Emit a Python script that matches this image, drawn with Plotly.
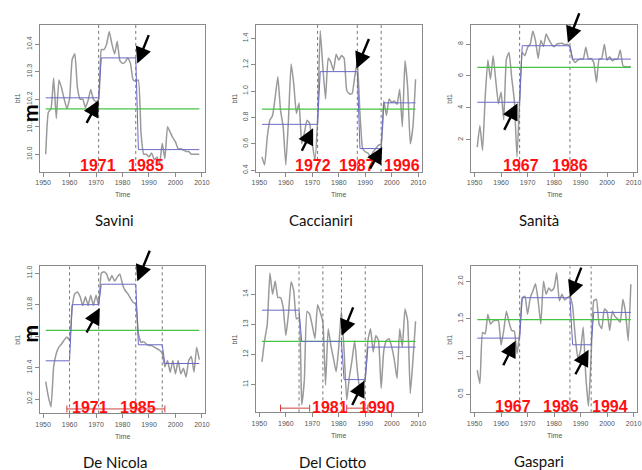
import plotly.graph_objects as go

W, H = 642, 470
years = list(range(1951, 2010))
x_ticks = [1950, 1960, 1970, 1980, 1990, 2000, 2010]

# ---------------- data ----------------
savini = [10.0, 10.153, 10.165, 10.277, 10.13, 10.27, 10.24, 10.2, 10.165, 10.2,
          10.345, 10.365, 10.24, 10.2, 10.2, 10.17, 10.195, 10.235, 10.2, 10.19,
          10.2, 10.38, 10.38, 10.4, 10.446, 10.4, 10.364, 10.41, 10.34, 10.33,
          10.335, 10.35, 10.33, 10.27, 10.265, 10.27, 10.075, 10.0, 10.0, 9.99,
          10.005, 9.98, 9.99, 9.966, 10.04, 9.984, 10.1, 10.08, 10.06, 10.045,
          10.02, 10.02, 10.015, 10.01, 10.01, 10.0, 10.0, 10.0, 10.0]
savini_breaks = [1971, 1985]
savini_levels = [10.205, 10.35, 10.017]
savini_mean = 10.165
savini_labels = ["1971", "1985"]

caccianiri = [0.5, 0.44, 0.65, 0.78, 0.815, 0.955, 1.11, 0.855, 0.73, 0.44,
              0.78, 1.206, 1.055, 0.83, 0.91, 0.6, 0.68, 0.78, 0.755, 0.6,
              0.475, 0.78, 1.46, 1.18, 0.94, 1.25, 1.22, 1.155, 1.28, 1.236,
              1.27, 1.25, 1.005, 0.98, 0.98, 1.105, 1.23, 0.83, 0.565, 0.54,
              0.53, 0.5, 0.54, 0.565, 0.59, 0.6, 0.925, 0.815, 0.94, 0.915,
              0.925, 0.9, 1.015, 0.73, 1.23, 1.03, 0.6, 0.73, 1.09]
caccianiri_breaks = [1972, 1987, 1996]
caccianiri_levels = [0.748, 1.148, 0.564, 0.911]
caccianiri_mean = 0.863
caccianiri_labels = ["1972", "1987", "1996"]

sanita = [1.54, 2.9, 1.33, 4.67, 7.0, 5.8, 7.27, 5.7, 4.25, 5.0,
          3.25, 7.06, 7.48, 5.9, 4.46, 0.92, 4.46, 7.48, 7.27, 7.8,
          8.0, 8.83, 8.2, 7.1, 8.25, 7.85, 8.63, 8.3, 8.0, 7.83,
          8.0, 8.04, 8.06, 7.96, 8.0, 7.8, 7.06, 6.85, 7.0, 7.06,
          7.06, 7.8, 7.06, 7.1, 6.85, 5.6, 7.06, 7.1, 8.0, 7.0,
          7.2, 6.96, 7.06, 7.06, 7.63, 6.65, 6.58, 6.58, 6.6]
sanita_breaks = [1967, 1986]
sanita_levels = [4.35, 7.9, 7.06]
sanita_mean = 6.54
sanita_labels = ["1967", "1986"]

denicola = [10.31, 10.215, 10.15, 10.405, 10.49, 10.53, 10.55, 10.575, 10.595, 10.575,
            10.785, 10.87, 10.88, 10.85, 10.795, 10.85, 10.795, 10.86, 10.795, 10.86,
            10.795, 11.0, 11.01, 10.995, 10.95, 10.985, 10.95, 10.975, 10.995, 10.93,
            10.89, 10.87, 10.84, 10.815, 10.805, 10.615, 10.56, 10.565, 10.55, 10.54,
            10.54, 10.53, 10.52, 10.51, 10.49, 10.405, 10.445, 10.37, 10.445, 10.36,
            10.445, 10.36, 10.395, 10.34, 10.445, 10.47, 10.37, 10.53, 10.45]
denicola_breaks = [1960, 1971, 1985, 1995]
denicola_levels = [10.443, 10.80, 10.93, 10.545, 10.426]
denicola_mean = 10.637
denicola_labels = ["1971", "1985"]
denicola_ci = [[1959, 1996, 10.137]]

delciotto = [11.75, 12.46, 13.0, 14.71, 14.0, 14.44, 13.89, 13.89, 13.56, 12.63,
             13.34, 14.42, 14.11, 13.18, 13.23, 10.32, 11.14, 13.43, 13.34, 12.96,
             12.52, 13.65, 13.4, 13.07, 10.98, 12.85, 12.3, 11.86, 11.42, 12.24,
             13.45, 12.13, 10.48, 11.25, 11.8, 12.46, 11.47, 10.81, 10.98, 11.25,
             12.46, 12.85, 12.08, 12.63, 12.46, 10.87, 12.13, 12.46, 12.52, 12.24,
             11.8, 11.2, 12.85, 12.24, 13.51, 13.12, 10.7, 11.8, 13.1]
delciotto_breaks = [1965, 1974, 1981, 1990]
delciotto_levels = [13.47, 12.43, 12.43, 11.16, 12.24]
delciotto_mean = 12.43
delciotto_labels = ["1981", "1990"]
delciotto_ci = [[1958, 1969, 10.21], [1983, 1991, 10.21]]

gaspari = [0.82, 0.64, 1.32, 1.30, 1.56, 1.43, 1.47, 1.48, 1.475, 1.15,
           1.345, 1.6, 1.455, 1.345, 1.335, 1.04, 1.3, 1.78, 1.80, 1.56,
           1.78, 1.87, 1.965, 1.74, 1.43, 2.0, 1.825, 1.91, 1.87, 1.91,
           2.11, 1.74, 1.825, 1.75, 1.78, 1.80, 1.67, 1.26, 0.97, 1.08,
           1.39, 0.73, 0.34, 1.0, 1.74, 1.76, 1.43, 1.37, 1.63, 1.6,
           1.345, 1.6, 1.53, 1.5, 1.455, 1.76, 1.58, 1.21, 1.96]
gaspari_breaks = [1967, 1986, 1994]
gaspari_levels = [1.244, 1.78, 1.156, 1.585]
gaspari_mean = 1.49
gaspari_labels = ["1967", "1986", "1994"]

names = ["Savini", "Caccianiri", "Sanità", "De Nicola", "Del Ciotto", "Gaspari"]

# ---------------- layout config (positions in pixels) ----------------
panels = [
    dict(series=savini, breaks=savini_breaks, levels=savini_levels, mean=savini_mean,
         labels=savini_labels, ci=[],
         box=(36, 24, 204, 172), yrange=(9.936, 10.47),
         yticks=[10.0, 10.1, 10.2, 10.3, 10.4],
         name_pos=(112, 220), lab_pos=[(95, 166), (144, 166)],
         arrows=[((96, 100), (83, 124)), ((135, 63), (147, 33))], m=(26, 113)),
    dict(series=caccianiri, breaks=caccianiri_breaks, levels=caccianiri_levels,
         mean=caccianiri_mean, labels=caccianiri_labels, ci=[],
         box=(255, 24, 423, 172), yrange=(0.387, 1.503),
         yticks=[0.4, 0.6, 0.8, 1.0, 1.2, 1.4],
         name_pos=(321, 220), lab_pos=[(313, 166), (357, 166), (403, 166)],
         arrows=[((313, 128), (301, 152)), ((357, 68), (370, 37)), ((383, 147), (370, 170))],
         m=None),
    dict(series=sanita, breaks=sanita_breaks, levels=sanita_levels, mean=sanita_mean,
         labels=sanita_labels, ci=[],
         box=(473, 24, 641, 172), yrange=(-0.02, 9.21),
         yticks=[2, 4, 6, 8],
         name_pos=(542, 220), lab_pos=[(524, 166), (573, 166)],
         arrows=[((520, 103), (506, 131)), ((571, 42), (583, 11))], m=None),
    dict(series=denicola, breaks=denicola_breaks, levels=denicola_levels,
         mean=denicola_mean, labels=denicola_labels, ci=denicola_ci,
         box=(36, 267, 204, 415), yrange=(10.109, 11.044),
         yticks=[10.2, 10.4, 10.6, 10.8, 11.0],
         name_pos=(113, 464), lab_pos=[(87, 409), (136, 409)],
         arrows=[((97, 309), (83, 335)), ((135, 282), (148, 250))], m=(26, 335)),
    dict(series=delciotto, breaks=delciotto_breaks, levels=delciotto_levels,
         mean=delciotto_mean, labels=delciotto_labels, ci=delciotto_ci,
         box=(255, 267, 423, 414), yrange=(10.07, 14.93),
         yticks=[11, 12, 13, 14],
         name_pos=(333, 464), lab_pos=[(330, 409), (378, 409)],
         arrows=[((342, 337), (354, 307)), ((365, 382), (352, 408))], m=None),
    dict(series=gaspari, breaks=gaspari_breaks, levels=gaspari_levels,
         mean=gaspari_mean, labels=gaspari_labels, ci=[],
         box=(473, 267, 641, 414), yrange=(0.259, 2.197),
         yticks=[0.5, 1.0, 1.5, 2.0],
         name_pos=(542, 463), lab_pos=[(515, 408), (564, 408), (614, 408)],
         arrows=[((518, 342), (505, 368)), ((573, 298), (585, 267)), ((592, 351), (578, 377))],
         m=None),
]

XR = (1948.68, 2011.32)
GREY = "#9a9a9a"
BLUE = "#6a6ac8"
GREEN = "#44c444"
FRAME = "#8a8a8a"
TICKFONT = dict(family="Liberation Sans, Arial", size=7, color="#555555")

fig = go.Figure()
annotations = []
layout = {}


def px(x):
    return x / W


def py(y):
    return 1 - y / H


for i, p in enumerate(panels, start=1):
    xa = "x" if i == 1 else f"x{i}"
    ya = "y" if i == 1 else f"y{i}"
    x0, y0, x1, y1 = p["box"]

    # fitted step series from segment levels and break years
    fitted = []
    for yr in years:
        k = sum(1 for b in p["breaks"] if yr > b)
        fitted.append(p["levels"][k])

    fig.add_trace(go.Scatter(x=years, y=p["series"], mode="lines",
                             line=dict(color=GREY, width=1.5, shape="spline", smoothing=0.4),
                             xaxis=xa, yaxis=ya, showlegend=False))
    for b in p["breaks"]:
        fig.add_trace(go.Scatter(x=[b, b], y=list(p["yrange"]), mode="lines",
                                 line=dict(color="#777777", width=1, dash="dot"),
                                 xaxis=xa, yaxis=ya, showlegend=False, hoverinfo="skip"))
    fig.add_trace(go.Scatter(x=[years[0], years[-1]], y=[p["mean"], p["mean"]], mode="lines",
                             line=dict(color=GREEN, width=1.2), xaxis=xa, yaxis=ya,
                             showlegend=False, hoverinfo="skip"))
    fig.add_trace(go.Scatter(x=years, y=fitted, mode="lines",
                             line=dict(color=BLUE, width=1), xaxis=xa, yaxis=ya,
                             showlegend=False))
    for c in p["ci"]:
        fig.add_trace(go.Scatter(x=[c[0], c[1]], y=[c[2], c[2]], mode="lines+markers",
                                 line=dict(color="#d04040", width=1),
                                 marker=dict(symbol="line-ns", size=5,
                                             line=dict(color="#d04040", width=1)),
                                 xaxis=xa, yaxis=ya, showlegend=False, hoverinfo="skip"))

    xkey = "xaxis" if i == 1 else f"xaxis{i}"
    ykey = "yaxis" if i == 1 else f"yaxis{i}"
    layout[xkey] = dict(domain=[px(x0), px(x1)], range=list(XR), tickvals=x_ticks,
                        ticktext=[str(t) for t in x_ticks],
                        ticks="outside", ticklen=4, tickcolor=FRAME, tickfont=TICKFONT,
                        showline=True, mirror=True, linecolor=FRAME, linewidth=1,
                        showgrid=False, zeroline=False, anchor=ya)
    layout[ykey] = dict(domain=[py(y1), py(y0)], range=list(p["yrange"]),
                        tickvals=p["yticks"],
                        ticktext=[f"{t:.1f}" if isinstance(t, float) else str(t) for t in p["yticks"]],
                        tickangle=-90,
                        ticks="outside", ticklen=4, tickcolor=FRAME, tickfont=TICKFONT,
                        showline=True, mirror=True, linecolor=FRAME, linewidth=1,
                        showgrid=False, zeroline=False, anchor=xa)

    # axis titles
    annotations.append(dict(x=px((x0 + x1) / 2), y=py(y1 + 23), xref="paper", yref="paper",
                            text="Time", showarrow=False, font=TICKFONT,
                            xanchor="center", yanchor="middle"))
    annotations.append(dict(x=px(x0 - 22), y=py((y0 + y1) / 2), xref="paper", yref="paper",
                            text="bt1", showarrow=False, font=TICKFONT, textangle=-90,
                            xanchor="center", yanchor="middle"))
    # name
    annotations.append(dict(x=px(p["name_pos"][0]), y=py(p["name_pos"][1]),
                            xref="paper", yref="paper", text=names[i - 1], showarrow=False,
                            font=dict(family="Lato, Open Sans", size=15, color="#111111"),
                            xanchor="center", yanchor="middle"))
    # red break years
    for lab, (lx, ly) in zip(p["labels"], p["lab_pos"]):
        annotations.append(dict(x=px(lx), y=py(ly), xref="paper", yref="paper",
                                text=f"<b>{lab}</b>", showarrow=False,
                                font=dict(family="Liberation Sans, Arial", size=16, color="#ff1010"),
                                xanchor="center", yanchor="middle"))
    # arrows
    for (hx, hy), (tx, ty) in p["arrows"]:
        annotations.append(dict(x=px(hx), y=py(hy), xref="paper", yref="paper",
                                ax=tx - hx, ay=ty - hy, text="", showarrow=True,
                                arrowhead=2, arrowsize=1.35, arrowwidth=2.4,
                                arrowcolor="#000000", standoff=0, startstandoff=0))
    # big m
    if p["m"] is not None:
        annotations.append(dict(x=px(p["m"][0]), y=py(p["m"][1]), xref="paper", yref="paper",
                                text="<b>m</b>", showarrow=False, textangle=-90,
                                font=dict(family="Lato, Open Sans", size=21, color="#000000"),
                                xanchor="center", yanchor="middle"))

fig.update_layout(width=W, height=H, margin=dict(l=0, r=0, t=0, b=0),
                  paper_bgcolor="white", plot_bgcolor="white",
                  annotations=annotations, showlegend=False, **layout)

fig.write_html("out.html", config={"displayModeBar": False},
               post_script="document.body.style.margin='0';document.body.style.padding='0';")
